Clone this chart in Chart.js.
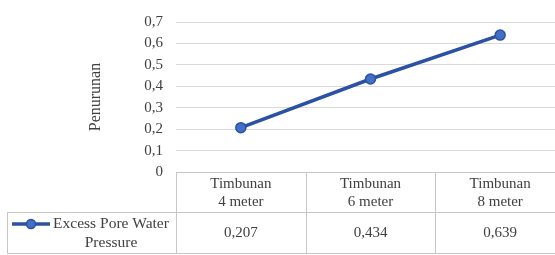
<!DOCTYPE html>
<html>
<head>
<meta charset="utf-8">
<script src="https://cdn.jsdelivr.net/npm/chart.js@4.4.1/dist/chart.umd.min.js"></script>
<style>
  html, body { margin: 0; padding: 0; background: #fff; }
  body { width: 555px; height: 255px; overflow: hidden; }
  #wrap { width: 565px; height: 255px; }
</style>
</head>
<body>
<div id="wrap"><canvas id="chart" width="565" height="255"></canvas></div>
<script>
// Data
const categories = [['Timbunan', '4 meter'], ['Timbunan', '6 meter'], ['Timbunan', '8 meter']];
const seriesName = ['Excess Pore Water', 'Pressure'];
const values = [0.207, 0.434, 0.639];
const yMin = 0, yMax = 0.7, yStep = 0.1;
const yTitle = 'Penurunan';

const FONT = "'Liberation Serif', 'Times New Roman', serif";
const TEXT = '#404040';
const LINE = '#2a51a3';
const BORDER = '#c6c6c6';

const fmt = v => String(v).replace('.', ',');

// Tabel onder de grafiek tekenen
const dataTable = {
    id: 'dataTable',
    afterDraw(chart) {
        const { ctx, chartArea, scales } = chart;
        const x = scales.x;
        const top = chartArea.bottom;
        const mid = top + 40;
        const bot = top + 81;
        const legLeft = 7;
        const step = x.getPixelForValue(1) - x.getPixelForValue(0);

        ctx.save();
        ctx.strokeStyle = BORDER;
        ctx.lineWidth = 1;
        ctx.beginPath();
        // horizontale lijnen
        ctx.moveTo(chartArea.left, top + 0.5); ctx.lineTo(chartArea.right, top + 0.5);
        ctx.moveTo(legLeft, mid + 0.5); ctx.lineTo(chartArea.right, mid + 0.5);
        ctx.moveTo(legLeft, bot + 0.5); ctx.lineTo(chartArea.right, bot + 0.5);
        // verticale lijnen
        ctx.moveTo(legLeft + 0.5, mid); ctx.lineTo(legLeft + 0.5, bot);
        for (let i = 0; i <= categories.length; i++) {
            const px = Math.round(x.getPixelForValue(i) - step / 2) + 0.5;
            ctx.moveTo(px, top); ctx.lineTo(px, bot);
        }
        ctx.stroke();

        ctx.fillStyle = TEXT;
        ctx.font = '15px ' + FONT;
        ctx.textAlign = 'center';
        ctx.textBaseline = 'middle';
        categories.forEach((lines, i) => {
            const cx = x.getPixelForValue(i);
            ctx.fillText(lines[0], cx, top + 12);
            ctx.fillText(lines[1], cx, top + 30);
            ctx.fillText(fmt(values[i]), cx, mid + 21);
        });

        // legenda
        const ly = mid + 12;
        ctx.strokeStyle = LINE;
        ctx.lineWidth = 3.5;
        ctx.beginPath();
        ctx.moveTo(12, ly); ctx.lineTo(50, ly);
        ctx.stroke();
        ctx.beginPath();
        ctx.arc(31, ly, 4.5, 0, Math.PI * 2);
        ctx.fillStyle = '#4170c4';
        ctx.fill();
        ctx.lineWidth = 1.5;
        ctx.stroke();

        ctx.fillStyle = TEXT;
        ctx.font = '15.5px ' + FONT;
        ctx.fillText(seriesName[0], 111, ly);
        ctx.fillText(seriesName[1], 111, ly + 19);
        ctx.restore();
    }
};

const ctx = document.getElementById('chart').getContext('2d');
new Chart(ctx, {
    type: 'line',
    data: {
        labels: categories,
        datasets: [{
            label: seriesName.join(' '),
            data: values,
            borderColor: LINE,
            borderWidth: 3.5,
            backgroundColor: '#4170c4',
            pointBackgroundColor: '#4170c4',
            pointBorderColor: LINE,
            pointBorderWidth: 1.5,
            pointRadius: 5,
            tension: 0
        }]
    },
    options: {
        responsive: false,
        animation: false,
        layout: { autoPadding: false, padding: { left: 0, right: 0, top: 15, bottom: 83 } },
        plugins: { legend: { display: false }, tooltip: { enabled: false } },
        scales: {
            x: {
                display: false,
                offset: true
            },
            y: {
                min: yMin,
                max: yMax,
                afterFit: scale => { scale.width = 176; },
                border: { display: false },
                grid: { color: '#d9d9d9', drawTicks: false },
                ticks: {
                    stepSize: yStep,
                    padding: 13,
                    color: TEXT,
                    font: { family: FONT, size: 15 },
                    callback: v => fmt(Math.round(v * 10) / 10)
                },
                title: {
                    display: true,
                    text: yTitle,
                    color: TEXT,
                    font: { family: FONT, size: 16 },
                    padding: { top: 86, bottom: 0 }
                }
            }
        }
    },
    plugins: [dataTable]
});
</script>
</body>
</html>
